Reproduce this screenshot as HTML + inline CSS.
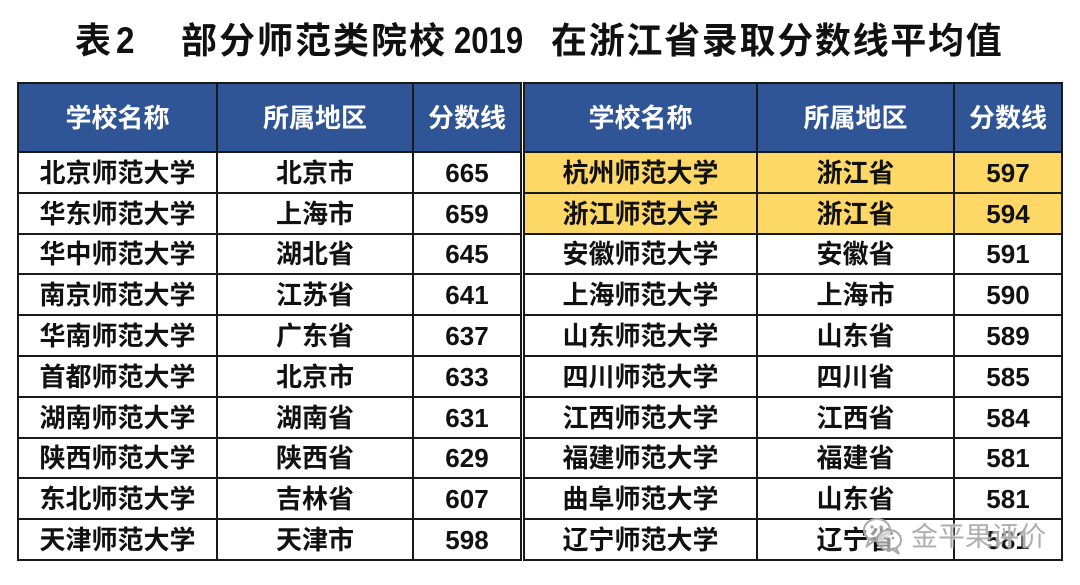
<!DOCTYPE html>
<html>
<head>
<meta charset="utf-8">
<style>
  html,body{margin:0;padding:0;background:#fff;}
  body{width:1080px;height:585px;position:relative;overflow:hidden;
       font-family:"Liberation Sans","Noto Sans CJK SC",sans-serif;}
  .a{position:absolute;}
  .t{position:absolute;font-weight:bold;color:#111;white-space:nowrap;}
  .c{position:absolute;display:flex;align-items:center;justify-content:center;
     font-weight:bold;font-size:26px;line-height:26px;color:#111;white-space:nowrap;}
  .h{color:#fff;}
  .vl{position:absolute;width:2px;background:#1a1a1a;}
  .hl{position:absolute;height:2px;background:#1a1a1a;}
</style>
</head>
<body>

<!-- Title -->
<div class="t" style="left:75px;top:23px;font-size:36px;line-height:36px;">表</div>
<div class="t" style="left:116px;top:23px;font-size:37px;line-height:36px;transform:scaleX(0.9);transform-origin:left;">2</div>
<div class="t" style="left:181px;top:23px;font-size:36px;line-height:36px;letter-spacing:2px;">部分师范类院校</div>
<div class="t" style="left:454px;top:23px;font-size:37px;line-height:36px;transform:scaleX(0.84);transform-origin:left;">2019</div>
<div class="t" style="left:551px;top:23px;font-size:36px;line-height:36px;letter-spacing:1.7px;">在浙江省录取分数线平均值</div>

<!-- Fills -->
<div class="a" style="left:17px;top:82px;width:505px;height:70px;background:#2f5597;"></div>
<div class="a" style="left:523px;top:82px;width:540px;height:70px;background:#2f5597;"></div>
<div class="a" style="left:523px;top:151px;width:540px;height:83px;background:#fdd866;"></div>

<!-- Horizontal lines -->
<div class="hl" style="left:17px;width:505px;top:82px;"></div>
<div class="hl" style="left:523px;width:540px;top:82px;"></div>
<div class="hl" style="left:17px;width:505px;top:151px;"></div>
<div class="hl" style="left:523px;width:540px;top:151px;"></div>
<div class="hl" style="left:17px;width:505px;top:192px;"></div>
<div class="hl" style="left:523px;width:540px;top:192px;"></div>
<div class="hl" style="left:17px;width:505px;top:233px;"></div>
<div class="hl" style="left:523px;width:540px;top:233px;"></div>
<div class="hl" style="left:17px;width:505px;top:273px;"></div>
<div class="hl" style="left:523px;width:540px;top:273px;"></div>
<div class="hl" style="left:17px;width:505px;top:314px;"></div>
<div class="hl" style="left:523px;width:540px;top:314px;"></div>
<div class="hl" style="left:17px;width:505px;top:355px;"></div>
<div class="hl" style="left:523px;width:540px;top:355px;"></div>
<div class="hl" style="left:17px;width:505px;top:396px;"></div>
<div class="hl" style="left:523px;width:540px;top:396px;"></div>
<div class="hl" style="left:17px;width:505px;top:437px;"></div>
<div class="hl" style="left:523px;width:540px;top:437px;"></div>
<div class="hl" style="left:17px;width:505px;top:477px;"></div>
<div class="hl" style="left:523px;width:540px;top:477px;"></div>
<div class="hl" style="left:17px;width:505px;top:518px;"></div>
<div class="hl" style="left:523px;width:540px;top:518px;"></div>
<div class="hl" style="left:17px;width:505px;top:559px;"></div>
<div class="hl" style="left:523px;width:540px;top:559px;"></div>

<!-- Vertical lines -->
<div class="vl" style="left:17px;top:82px;height:479px;"></div>
<div class="vl" style="left:216px;top:82px;height:479px;"></div>
<div class="vl" style="left:412px;top:82px;height:479px;"></div>
<div class="vl" style="left:520px;top:82px;height:479px;"></div>
<div class="vl" style="left:523px;top:82px;height:479px;"></div>
<div class="vl" style="left:756px;top:82px;height:479px;"></div>
<div class="vl" style="left:953px;top:82px;height:479px;"></div>
<div class="vl" style="left:1061px;top:82px;height:479px;"></div>

<!-- Header -->
<div class="c h" style="left:19px;width:197px;top:84px;height:67px;">学校名称</div>
<div class="c h" style="left:218px;width:194px;top:84px;height:67px;">所属地区</div>
<div class="c h" style="left:414px;width:106px;top:84px;height:67px;">分数线</div>
<div class="c h" style="left:525px;width:231px;top:84px;height:67px;">学校名称</div>
<div class="c h" style="left:758px;width:195px;top:84px;height:67px;">所属地区</div>
<div class="c h" style="left:955px;width:106px;top:84px;height:67px;">分数线</div>

<!-- Row 1 -->
<div class="c" style="left:19px;width:197px;top:153px;height:39px;">北京师范大学</div>
<div class="c" style="left:218px;width:194px;top:153px;height:39px;">北京市</div>
<div class="c" style="left:414px;width:106px;top:153px;height:39px;">665</div>
<div class="c" style="left:525px;width:231px;top:153px;height:39px;">杭州师范大学</div>
<div class="c" style="left:758px;width:195px;top:153px;height:39px;">浙江省</div>
<div class="c" style="left:955px;width:106px;top:153px;height:39px;">597</div>
<!-- Row 2 -->
<div class="c" style="left:19px;width:197px;top:194px;height:39px;">华东师范大学</div>
<div class="c" style="left:218px;width:194px;top:194px;height:39px;">上海市</div>
<div class="c" style="left:414px;width:106px;top:194px;height:39px;">659</div>
<div class="c" style="left:525px;width:231px;top:194px;height:39px;">浙江师范大学</div>
<div class="c" style="left:758px;width:195px;top:194px;height:39px;">浙江省</div>
<div class="c" style="left:955px;width:106px;top:194px;height:39px;">594</div>
<!-- Row 3 -->
<div class="c" style="left:19px;width:197px;top:235px;height:38px;">华中师范大学</div>
<div class="c" style="left:218px;width:194px;top:235px;height:38px;">湖北省</div>
<div class="c" style="left:414px;width:106px;top:235px;height:38px;">645</div>
<div class="c" style="left:525px;width:231px;top:235px;height:38px;">安徽师范大学</div>
<div class="c" style="left:758px;width:195px;top:235px;height:38px;">安徽省</div>
<div class="c" style="left:955px;width:106px;top:235px;height:38px;">591</div>
<!-- Row 4 -->
<div class="c" style="left:19px;width:197px;top:275px;height:39px;">南京师范大学</div>
<div class="c" style="left:218px;width:194px;top:275px;height:39px;">江苏省</div>
<div class="c" style="left:414px;width:106px;top:275px;height:39px;">641</div>
<div class="c" style="left:525px;width:231px;top:275px;height:39px;">上海师范大学</div>
<div class="c" style="left:758px;width:195px;top:275px;height:39px;">上海市</div>
<div class="c" style="left:955px;width:106px;top:275px;height:39px;">590</div>
<!-- Row 5 -->
<div class="c" style="left:19px;width:197px;top:316px;height:39px;">华南师范大学</div>
<div class="c" style="left:218px;width:194px;top:316px;height:39px;">广东省</div>
<div class="c" style="left:414px;width:106px;top:316px;height:39px;">637</div>
<div class="c" style="left:525px;width:231px;top:316px;height:39px;">山东师范大学</div>
<div class="c" style="left:758px;width:195px;top:316px;height:39px;">山东省</div>
<div class="c" style="left:955px;width:106px;top:316px;height:39px;">589</div>
<!-- Row 6 -->
<div class="c" style="left:19px;width:197px;top:357px;height:39px;">首都师范大学</div>
<div class="c" style="left:218px;width:194px;top:357px;height:39px;">北京市</div>
<div class="c" style="left:414px;width:106px;top:357px;height:39px;">633</div>
<div class="c" style="left:525px;width:231px;top:357px;height:39px;">四川师范大学</div>
<div class="c" style="left:758px;width:195px;top:357px;height:39px;">四川省</div>
<div class="c" style="left:955px;width:106px;top:357px;height:39px;">585</div>
<!-- Row 7 -->
<div class="c" style="left:19px;width:197px;top:398px;height:39px;">湖南师范大学</div>
<div class="c" style="left:218px;width:194px;top:398px;height:39px;">湖南省</div>
<div class="c" style="left:414px;width:106px;top:398px;height:39px;">631</div>
<div class="c" style="left:525px;width:231px;top:398px;height:39px;">江西师范大学</div>
<div class="c" style="left:758px;width:195px;top:398px;height:39px;">江西省</div>
<div class="c" style="left:955px;width:106px;top:398px;height:39px;">584</div>
<!-- Row 8 -->
<div class="c" style="left:19px;width:197px;top:439px;height:38px;">陕西师范大学</div>
<div class="c" style="left:218px;width:194px;top:439px;height:38px;">陕西省</div>
<div class="c" style="left:414px;width:106px;top:439px;height:38px;">629</div>
<div class="c" style="left:525px;width:231px;top:439px;height:38px;">福建师范大学</div>
<div class="c" style="left:758px;width:195px;top:439px;height:38px;">福建省</div>
<div class="c" style="left:955px;width:106px;top:439px;height:38px;">581</div>
<!-- Row 9 -->
<div class="c" style="left:19px;width:197px;top:479px;height:39px;">东北师范大学</div>
<div class="c" style="left:218px;width:194px;top:479px;height:39px;">吉林省</div>
<div class="c" style="left:414px;width:106px;top:479px;height:39px;">607</div>
<div class="c" style="left:525px;width:231px;top:479px;height:39px;">曲阜师范大学</div>
<div class="c" style="left:758px;width:195px;top:479px;height:39px;">山东省</div>
<div class="c" style="left:955px;width:106px;top:479px;height:39px;">581</div>
<!-- Row 10 -->
<div class="c" style="left:19px;width:197px;top:520px;height:39px;">天津师范大学</div>
<div class="c" style="left:218px;width:194px;top:520px;height:39px;">天津市</div>
<div class="c" style="left:414px;width:106px;top:520px;height:39px;">598</div>
<div class="c" style="left:525px;width:231px;top:520px;height:39px;">辽宁师范大学</div>
<div class="c" style="left:758px;width:195px;top:520px;height:39px;">辽宁省</div>
<div class="c" style="left:955px;width:106px;top:520px;height:39px;">581</div>

<!-- Watermark -->
<svg class="a" style="left:862px;top:516px;" width="44" height="40" viewBox="0 0 44 40">
  <g fill="rgba(255,255,255,0.55)" stroke="#a8a8a8" stroke-width="2">
    <ellipse cx="15" cy="14" rx="13" ry="11"/>
    <path d="M7 23 L5 30 L12 25 Z"/>
    <ellipse cx="27" cy="24" rx="12" ry="10"/>
    <path d="M34 32 L37 38 L30 33 Z"/>
  </g>
  <g fill="#a8a8a8">
    <circle cx="10" cy="11" r="1.6"/><circle cx="19" cy="11" r="1.6"/>
    <circle cx="23" cy="22" r="1.4"/><circle cx="31" cy="22" r="1.4"/>
  </g>
</svg>
<div class="a" style="left:911px;top:522px;font-size:27px;line-height:30px;color:rgba(165,165,165,0.9);letter-spacing:0px;white-space:nowrap;text-shadow:0 0 2px #fff,0 0 2px #fff;">金平果评价</div>

</body>
</html>
